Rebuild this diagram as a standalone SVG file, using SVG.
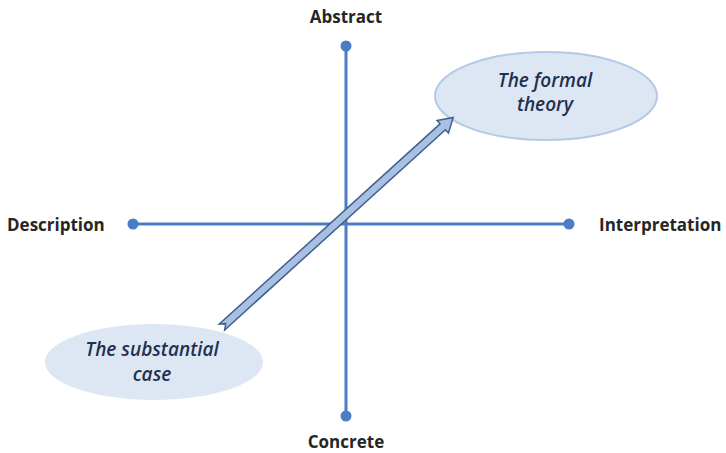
<svg xmlns="http://www.w3.org/2000/svg" width="726" height="453" viewBox="0 0 726 453">
  <style>
    .axis { stroke: #4a7dc4; stroke-width: 3; fill: none; }
    .dot { fill: #4a7dc4; }
    .pole { font-family: "Open Sans", "Liberation Sans", sans-serif; font-weight: bold; font-size: 17px; fill: #262626; }
    .oval { fill: #dde7f3; }
    .oval-text { font-family: "Open Sans", "Liberation Sans", sans-serif; font-style: italic; font-weight: 600; font-size: 19px; fill: #1f3050; text-anchor: middle; }
    .arrow { fill: #a8c0e2; stroke: #3e5f8e; stroke-width: 1.5; stroke-linejoin: miter; }
  </style>
  <rect width="726" height="453" fill="#ffffff"/>

  <g id="axes">
    <line class="axis" x1="346" y1="46" x2="346" y2="416"/>
    <line class="axis" x1="133" y1="224" x2="569" y2="224"/>
    <circle class="dot" cx="346" cy="46" r="5.5"/>
    <circle class="dot" cx="346" cy="416" r="5.5"/>
    <circle class="dot" cx="133" cy="224" r="5.5"/>
    <circle class="dot" cx="569" cy="224" r="5.5"/>
  </g>

  <g id="abstract"><text class="pole" x="346" y="23" text-anchor="middle">Abstract</text></g>
  <g id="concrete"><text class="pole" x="346" y="448" text-anchor="middle">Concrete</text></g>
  <g id="description"><text class="pole" x="7" y="231">Description</text></g>
  <g id="interpretation"><text class="pole" x="599" y="231">Interpretation</text></g>

  <g id="formal-theory">
    <ellipse class="oval" cx="546" cy="96" rx="111" ry="44" stroke="#b3c9e6" stroke-width="2"/>
    <text class="oval-text" x="545" y="87">The formal</text>
    <text class="oval-text" x="545" y="111">theory</text>
  </g>

  <g id="substantial-case">
    <ellipse class="oval" cx="154" cy="362" rx="109" ry="38"/>
    <text class="oval-text" x="152" y="356">The substantial</text>
    <text class="oval-text" x="152" y="381">case</text>
  </g>

  <g id="connectors">
    <g transform="translate(222,327) rotate(-42.2)">
      <polygon class="arrow" points="0,-4 298,-4 298,-8.5 312,0 298,8.5 298,4 0,4 5,0"/>
    </g>
  </g>
</svg>
